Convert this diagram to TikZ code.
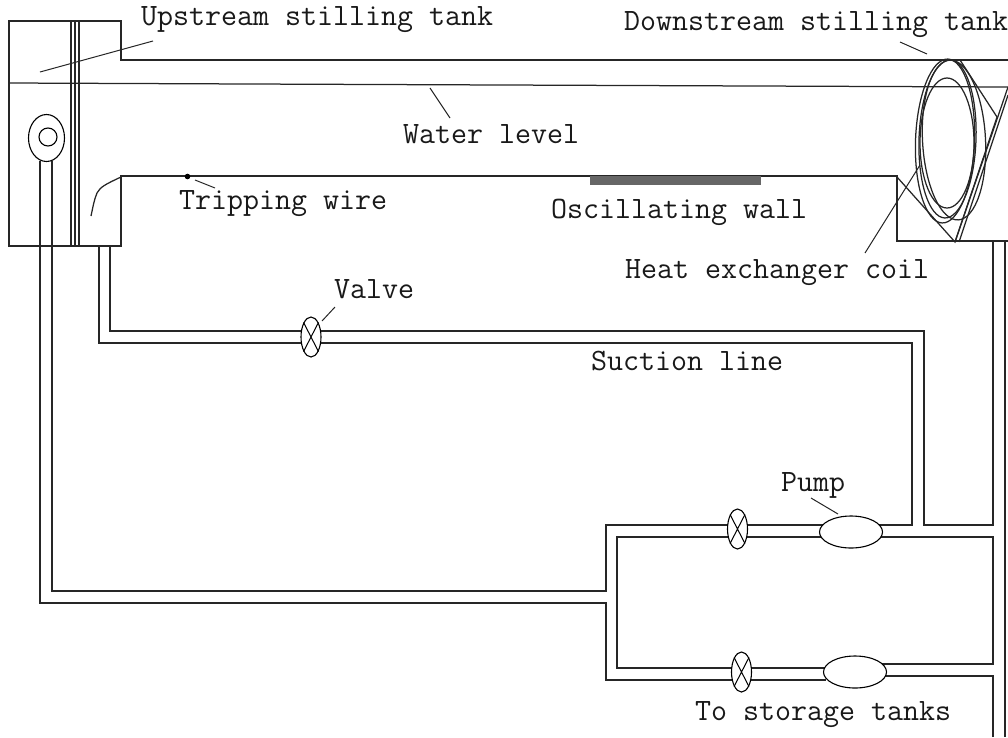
\documentclass[tikz,border=0pt]{standalone}
\usetikzlibrary{shapes.geometric}
\tikzset{
  pipe/.style={line width=1.25pt,black!85},
  lead/.style={line width=1pt,black!85},
  lbl/.style={anchor=base west,inner sep=0pt,font=\fontsize{31.07}{34}\selectfont\ttfamily,text=black!90},
  valveshape/.style={ellipse,draw=black,line width=1.1pt,fill=white,inner sep=0pt,minimum width=20pt,minimum height=40pt},
  pumpshape/.style={ellipse,draw=black,line width=1.1pt,fill=white,inner sep=0pt,minimum width=63pt,minimum height=32pt}
}
\begin{document}
\begin{tikzpicture}[x=1pt,y=-1pt]
\useasboundingbox (0,0) rectangle (1008,737);
% Channel and tanks
\draw[pipe] (1008,60) -- (121,60) -- (121,21) -- (9,21) -- (9,246) -- (121,246) -- (121,176) -- (897,176) -- (897,241) -- (1008,241);
\draw[pipe] (9,83) -- (250,84) -- (1008,87);
\draw[pipe] (71,21) -- (71,246) (75,21) -- (75,246) (79,21) -- (79,246);
\draw[pipe] (121,177) .. controls (106,184) and (100,187) .. (97,193) .. controls (94,200) and (93,207) .. (91,216);
% Oscillating wall
\fill[black!60] (590,176) rectangle (761,185);
% Tripping wire
\fill (187.5,176.5) circle (2.8pt);
% Upstream loop
\node[ellipse,draw=black,line width=1.1pt,inner sep=0pt,minimum width=36pt,minimum height=47pt] (oval) at (46.5,138) {};
\node[circle,draw=black,line width=1.1pt,inner sep=0pt,minimum size=18pt] (eye) at (48,137) {};
% Pipes
\draw[pipe] (40,161) -- (40,603) -- (606,603) -- (606,680) -- (826,680);
\draw[pipe] (52,161) -- (52,591) -- (606,591) -- (606,525) -- (912,525) -- (912,343) -- (99,343) -- (99,246);
\draw[pipe] (110,246) -- (110,331) -- (924,331) -- (924,525) -- (993,525) -- (993,241);
\draw[pipe] (1005,241) -- (1005,737);
\draw[pipe] (993,737) -- (993,676) -- (880,676);
\draw[pipe] (880,664) -- (993,664) -- (993,537) -- (617,537) -- (617,668) -- (830,668);
% Valves and pumps
\foreach \n/\p in {va/{(311,337)},vb/{(737.5,529)},vc/{(741.5,672)}}{
  \node[valveshape] (\n) at \p {};
  \draw[line width=1pt] (\n.north west) -- (\n.south east) (\n.north east) -- (\n.south west);
}
\node[pumpshape] (pa) at (851,532) {};
\node[pumpshape] (pb) at (855,672) {};
% Heat exchanger coil
\draw[pipe] (947,143) ellipse [x radius=27pt,y radius=65pt];
\draw[pipe,rotate around={-2:(947.5,139)}] (947.5,139) ellipse [x radius=28.5pt,y radius=79pt];
\draw[pipe,rotate around={-2:(945,141)}] (945,141) ellipse [x radius=29.5pt,y radius=82pt];
\draw[pipe,rotate around={3:(954,140)}] (954,140) ellipse [x radius=31.5pt,y radius=80pt];
\draw[pipe] (960,60) -- (997,117) -- (955,242) -- (897,177);
\draw[pipe] (955,242) -- (1008,87);
\draw[pipe] (959,242) -- (1008,95);
% Labels
\node[lbl] (t1) at (141,25) {Upstream stilling tank};
\node[lbl] (t2) at (624,30) {Downstream stilling tank};
\node[lbl] (t3) at (403,143) {Water level};
\node[lbl] (t4) at (179,209) {Tripping wire};
\node[lbl] (t5) at (551,218) {Oscillating wall};
\node[lbl] (t6) at (625,278) {Heat exchanger coil};
\node[lbl] (t7) at (334,298) {Valve};
\node[lbl] (t8) at (591,370) {Suction line};
\node[lbl] (t9) at (781,491) {Pump};
\node[lbl] (t10) at (695,720) {To storage tanks};
% Leaders
\draw[lead] (40,72) -- (153,41);
\draw[lead] (900,42) -- (927,54);
\draw[lead] (430,88) -- (450,118);
\draw[lead] (195,180) -- (215,188);
\draw[lead] (865,253) -- (920,165);
\draw[lead] (322,321) -- (335,307);
\draw[lead] (811,498) -- (838,514);
\end{tikzpicture}
\end{document}
